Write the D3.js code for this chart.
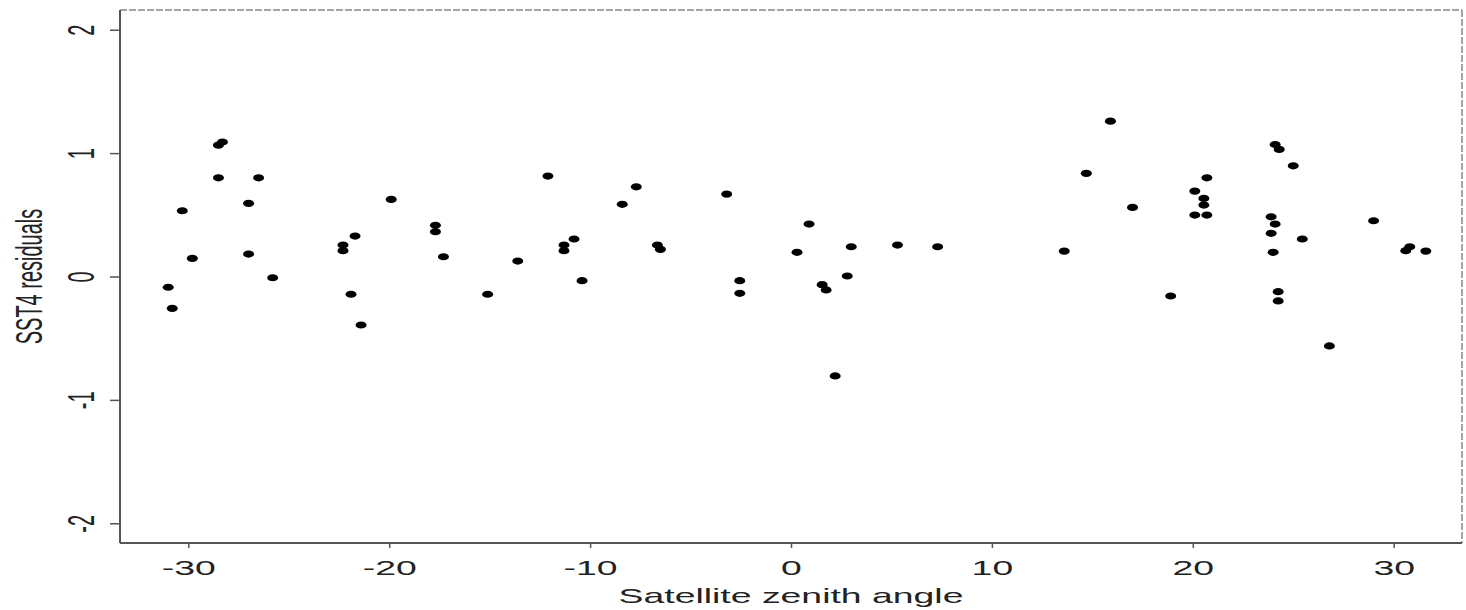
<!DOCTYPE html>
<html>
<head>
<meta charset="utf-8">
<script src="https://cdn.jsdelivr.net/npm/d3@7"></script>
<style>
  body { margin: 0; background: #fff; }
  text { font-family: "Liberation Sans", Arial, sans-serif; fill: #222; }
</style>
</head>
<body>
<div id="chart"></div>
<script>
// satellite zenith angle (deg) and SST4 residuals
const angle = [
  -28.3, -28.5, -28.5, -26.5, -27.0, -30.3, -29.8, -27.0, -25.8, -31.0, -30.8,
  -19.9, -17.7, -17.7, -17.3, -21.7, -22.3, -22.3, -21.9, -21.4,
  -12.1, -7.7, -8.4, -3.2, -10.8, -11.3, -11.3, -13.6, -10.4, -15.1, -6.65, -6.5,
  -2.55, -2.55, 0.3, 0.9, 3.0, 5.3, 7.3, 2.8, 1.55, 1.75, 2.2,
  15.9, 14.7, 17.0, 13.6, 18.9, 20.7, 20.1, 20.55, 20.55, 20.1, 20.7,
  24.1, 24.3, 25.0, 23.9, 24.1, 23.9, 24.0, 24.25, 24.25, 25.45,
  29.0, 30.8, 30.6, 31.6, 26.8
]
const resid = [
  1.09, 1.065, 0.80, 0.80, 0.593, 0.533, 0.147, 0.182, -0.01, -0.087, -0.258,
  0.625, 0.415, 0.363, 0.16, 0.328, 0.255, 0.209, -0.144, -0.393,
  0.814, 0.727, 0.585, 0.668, 0.304, 0.255, 0.209, 0.125, -0.034, -0.144, 0.255, 0.22,
  -0.034, -0.136, 0.196, 0.425, 0.241, 0.255, 0.241, 0.004, -0.066, -0.109, -0.806,
  1.259, 0.836, 0.56, 0.206, -0.158, 0.80, 0.692, 0.633, 0.579, 0.498, 0.498,
  1.07, 1.03, 0.897, 0.484, 0.425, 0.35, 0.196, -0.123, -0.198, 0.304,
  0.452, 0.241, 0.209, 0.206, -0.563
]
const xTicks = [-30, -20, -10, 0, 10, 20, 30]
const yTicks = [-2, -1, 0, 1, 2]

const w = 1466
const h = 610
const pLeft = 120, pRight = 1462, pTop = 10, pBottom = 543
const sx = 1.87   // the picture is stretched sideways

const xScale = d3.scaleLinear().domain([-33.4, 33.4]).range([pLeft, pRight])
const yScale = d3.scaleLinear().domain([-2.16, 2.16]).range([pBottom, pTop])

const svg = d3.select('#chart')
  .append('svg')
  .attr('width', w)
  .attr('height', h)

// box: solid left/bottom, dashed top/right
svg.append('line')
  .attr('x1', pLeft).attr('x2', pRight).attr('y1', pTop).attr('y2', pTop)
  .attr('stroke', '#888').attr('stroke-width', 1.5).attr('stroke-dasharray', '7,2')
svg.append('line')
  .attr('x1', pRight).attr('x2', pRight).attr('y1', pTop).attr('y2', pBottom)
  .attr('stroke', '#888').attr('stroke-width', 1.5).attr('stroke-dasharray', '7,2')
svg.append('line')
  .attr('x1', pLeft).attr('x2', pLeft).attr('y1', pTop).attr('y2', pBottom)
  .attr('stroke', '#555').attr('stroke-width', 2)
svg.append('line')
  .attr('x1', pLeft).attr('x2', pRight).attr('y1', pBottom).attr('y2', pBottom)
  .attr('stroke', '#555').attr('stroke-width', 2)

const xAxis = svg.append('g')
  .attr('transform', `translate(0,${pBottom})`)
  .call(d3.axisBottom(xScale).tickValues(xTicks).tickSize(5).tickFormat(d => String(d)))
xAxis.select('.domain').remove()
xAxis.selectAll('line').attr('stroke', '#555').attr('stroke-width', 1.5)
xAxis.selectAll('text')
  .attr('y', 25).attr('dy', '0.36em')
  .attr('font-size', 20)
  .attr('transform', `scale(${sx},1)`)
  .style('fill', '#222')

const yAxis = svg.append('g')
  .attr('transform', `translate(${pLeft},0)`)
  .call(d3.axisLeft(yScale).tickValues(yTicks).tickSize(10).tickFormat(d => String(d)))
yAxis.select('.domain').remove()
yAxis.selectAll('line').attr('stroke', '#555').attr('stroke-width', 1.5)
yAxis.selectAll('text')
  .attr('x', 0).attr('y', 0).attr('dy', '0.36em')
  .attr('text-anchor', 'middle')
  .attr('font-size', 20)
  .attr('transform', `translate(-39,0) scale(${sx},1) rotate(-90)`)
  .style('fill', '#222')

// axis titles
svg.append('text')
  .attr('text-anchor', 'middle')
  .attr('font-size', 20)
  .attr('transform', `translate(${xScale(0)},${596}) scale(${sx},1)`)
  .attr('dy', '0.36em')
  .text('Satellite zenith angle')

svg.append('text')
  .attr('text-anchor', 'middle')
  .attr('font-size', 20)
  .attr('transform', `translate(29,${yScale(0)}) scale(${sx},1) rotate(-90)`)
  .attr('dy', '0.36em')
  .text('SST4 residuals')

svg.selectAll('ellipse')
  .data(angle.map((a, i) => [a, resid[i]]))
  .enter()
  .append('ellipse')
  .attr('cx', d => xScale(d[0]))
  .attr('cy', d => yScale(d[1]))
  .attr('rx', 5.5)
  .attr('ry', 3.6)
  .attr('fill', '#000')
</script>
</body>
</html>
